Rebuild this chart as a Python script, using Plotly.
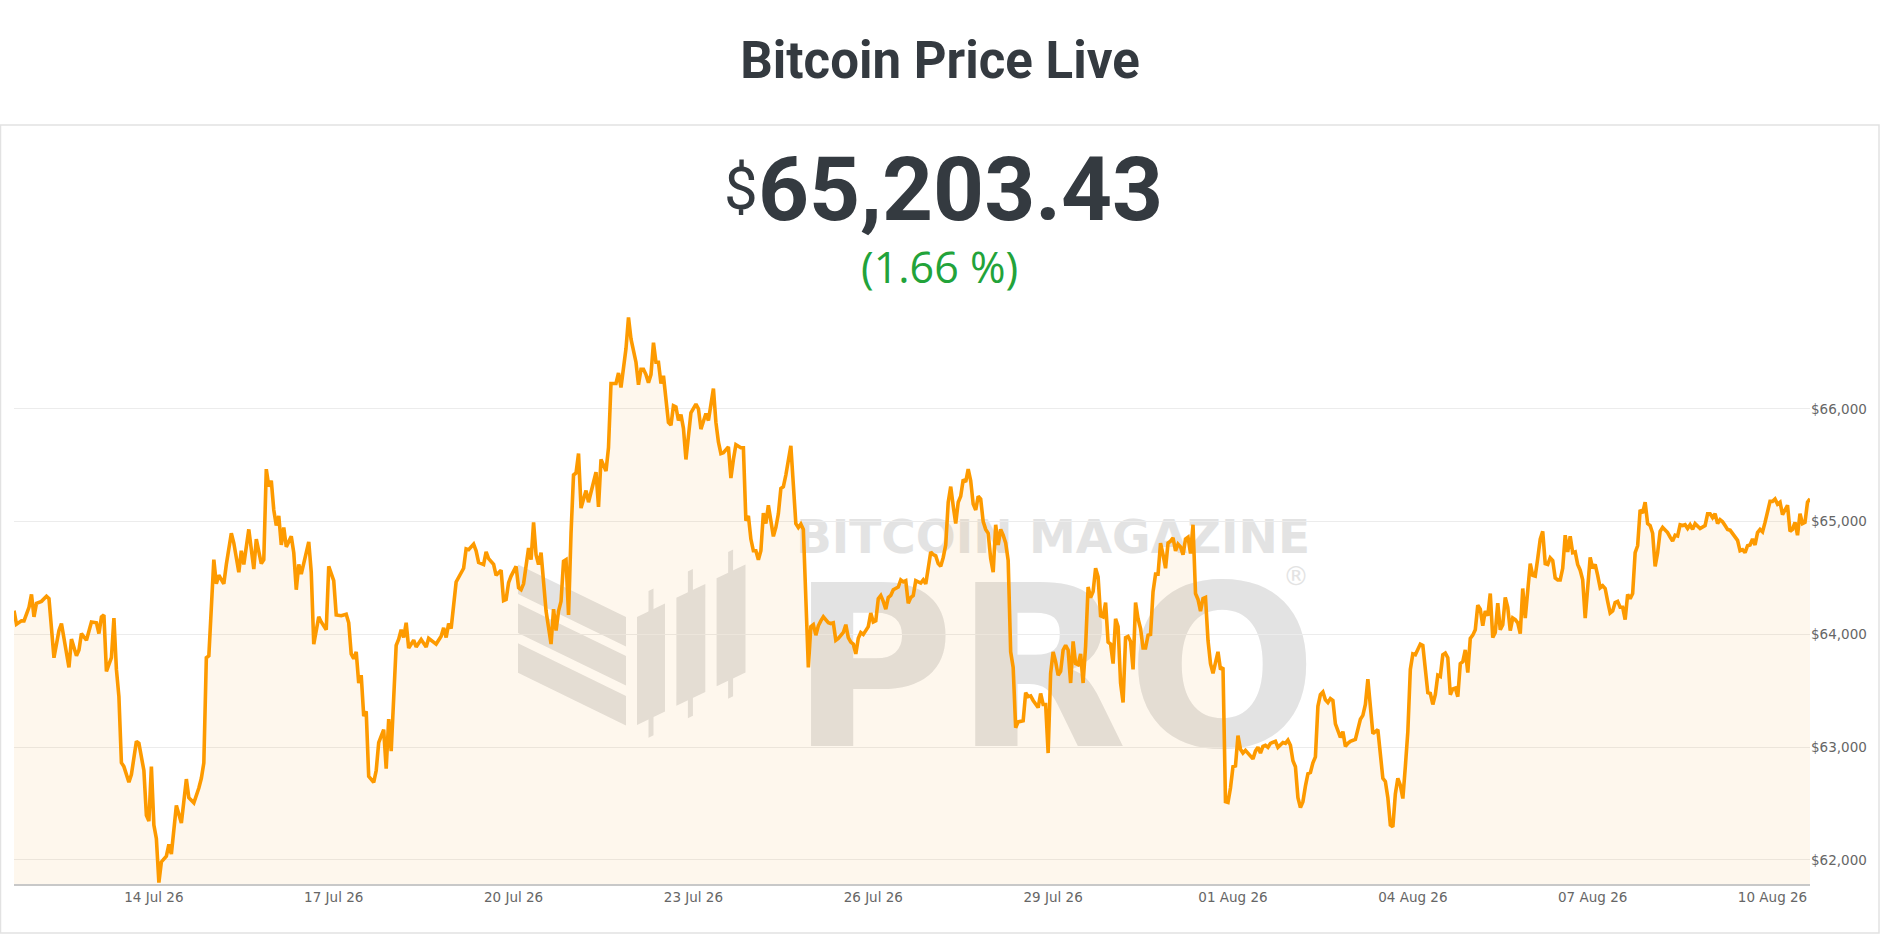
import pandas as pd
import plotly.graph_objects as go

# hourly BTC/USD readings, hour offset from the first point
start = pd.Timestamp("2026-07-11 16:00")

prices_jul11_jul21 = [
    (0, 64210), (1, 64090), (3, 64120), (4, 64120), (6, 64240), (7, 64355), (8, 64155), (9, 64276),
    (11, 64293), (13, 64338), (14, 64317), (16, 63793), (18, 64034), (19, 64096), (22, 63707), (23, 63958),
    (25, 63810), (26, 63862), (27, 64007), (29, 63948), (31, 64110), (33, 64103), (34, 64007), (35, 64155),
    (36, 64172), (37, 63672), (39, 63793), (40, 64145), (41, 63689), (42, 63448), (43, 62862), (44, 62828),
    (46, 62689), (47, 62758), (49, 63052), (50, 63034), (52, 62793), (53, 62396), (54, 62345), (55, 62828),
    (56, 62310), (57, 62189), (58, 61800), (59, 61983), (61, 62034), (62, 62138), (63, 62052), (65, 62483),
    (67, 62327), (69, 62717), (70, 62552), (72, 62507), (74, 62638), (75, 62724), (76, 62862), (77, 63793),
    (78, 63810), (80, 64662), (81, 64448), (82, 64524), (84, 64448), (85, 64620), (87, 64896), (88, 64810),
    (90, 64551), (91, 64741), (92, 64620), (94, 64931), (96, 64579), (97, 64845), (99, 64627), (100, 64662),
    (101, 65465), (102, 65310), (103, 65362), (104, 65103), (105, 64965), (106, 65051), (107, 64793), (108, 64948),
    (109, 64776), (111, 64869), (112, 64724), (113, 64396), (114, 64620), (115, 64534), (118, 64820), (119, 64551),
    (120, 63914), (122, 64155), (123, 64110), (125, 64041), (126, 64603), (128, 64476), (129, 64172), (131, 64165),
    (133, 64179), (134, 64103), (135, 63827), (136, 63786), (137, 63845), (138, 63569), (139, 63638), (140, 63276),
    (141, 63317), (142, 62741), (144, 62689), (145, 62793), (146, 63041), (148, 63155), (149, 62810), (150, 63248),
    (151, 62965), (153, 63903), (154, 63958), (155, 64041), (156, 63972), (157, 64103), (158, 63879), (160, 63948),
    (161, 63889), (163, 63955), (165, 63889), (166, 63965), (169, 63914), (171, 63983), (172, 64058), (173, 63972),
    (174, 64096), (175, 64052), (177, 64465), (179, 64551), (180, 64586), (181, 64758), (182, 64751), (184, 64800),
    (185, 64741), (186, 64638), (188, 64620), (189, 64731), (190, 64672), (192, 64620), (193, 64524), (195, 64569),
    (196, 64300), (197, 64310), (198, 64458), (199, 64517), (201, 64603), (202, 64413), (203, 64396), (204, 64448),
    (206, 64765), (207, 64662), (208, 64993), (209, 64707), (210, 64620), (211, 64724), (212, 64483), (213, 64207),
    (215, 63914), (216, 64224), (217, 64034), (218, 64207), (219, 64293), (220, 64648), (221, 64662), (222, 64172),
    (223, 64896), (224, 65413), (225, 65431), (226, 65603), (227, 65120), (229, 65275), (230, 65172), (231, 65258),
    (233, 65438), (234, 65131), (235, 65551), (237, 65448), (238, 65655), (239, 66224), (241, 66224), (242, 66317),
    (243, 66189), (245, 66534), (246, 66810),
]

prices_jul21_aug01 = [
    (247, 66620), (249, 66413), (250, 66213), (251, 66351), (252, 66351), (253, 66303), (254, 66231), (255, 66303),
    (256, 66586), (257, 66413), (258, 66413), (259, 66224), (260, 66293), (262, 65879), (263, 65855), (264, 66027),
    (265, 66017), (266, 65896), (267, 65948), (268, 65827), (269, 65551), (270, 65775), (271, 65965), (273, 66041),
    (274, 66000), (275, 65820), (276, 65889), (277, 65958), (278, 65896), (280, 66179), (281, 65879), (282, 65706),
    (283, 65603), (284, 65610), (286, 65662), (287, 65386), (288, 65551), (289, 65682), (291, 65655), (292, 65655),
    (293, 65007), (294, 65051), (295, 64845), (296, 64741), (297, 64741), (298, 64662), (299, 64741), (300, 65075),
    (301, 64982), (302, 65145), (304, 64869), (305, 64948), (306, 65069), (307, 65293), (308, 65310), (309, 65413),
    (311, 65672), (312, 65310), (313, 64982), (314, 64948), (315, 64979), (316, 64931), (318, 63707), (319, 64069),
    (320, 64086), (321, 63993), (322, 64076), (323, 64120), (324, 64155), (326, 64103), (327, 64096), (328, 64103),
    (329, 63948), (330, 63965), (332, 64017), (333, 64086), (334, 63972), (335, 63931), (336, 63914), (337, 63827),
    (338, 63965), (339, 64017), (340, 64000), (342, 64069), (343, 64189), (344, 64110), (345, 64120), (346, 64317),
    (347, 64345), (348, 64293), (349, 64224), (350, 64327), (351, 64345), (352, 64396), (354, 64420), (355, 64483),
    (356, 64465), (357, 64476), (358, 64276), (359, 64327), (360, 64345), (361, 64476), (363, 64455), (364, 64483),
    (365, 64448), (366, 64586), (367, 64731), (368, 64707), (369, 64696), (370, 64627), (371, 64603), (372, 64682),
    (373, 64793), (374, 65172), (375, 65310), (376, 65138), (377, 64982), (378, 65172), (379, 65224), (380, 65372),
    (381, 65351), (382, 65465), (383, 65362), (384, 65155), (385, 65103), (386, 65224), (387, 65200), (388, 65000),
    (389, 64931), (390, 64896), (391, 64672), (392, 64551), (393, 64972), (394, 64793), (395, 64931), (396, 64879),
    (397, 64810), (398, 64655), (399, 63845), (400, 63707), (401, 63172), (402, 63224), (404, 63234), (405, 63483),
    (406, 63448), (407, 63455), (408, 63414), (410, 63351), (411, 63476), (412, 63379), (413, 63379), (414, 62948),
    (415, 63655), (416, 63845), (417, 63758), (418, 63638), (419, 63672), (420, 63862), (421, 63903), (422, 63862),
    (423, 63569), (424, 63938), (425, 63741), (426, 63731), (427, 63827), (428, 63569), (429, 63896), (430, 64420),
    (431, 64327), (432, 64379), (433, 64586), (434, 64510), (435, 64165), (436, 64155), (437, 64282), (438, 63931),
    (439, 63914), (440, 63741), (441, 64138), (442, 64069), (443, 63569), (444, 63396), (445, 63972), (446, 63983),
    (447, 63938), (448, 63689), (449, 64282), (450, 64138), (451, 64052), (452, 63879), (453, 63879), (454, 63993),
    (455, 64000), (456, 64379), (457, 64534), (458, 64534), (459, 64810), (460, 64707), (461, 64586), (462, 64810),
    (463, 64827), (464, 64855), (465, 64741), (466, 64800), (467, 64776), (468, 64707), (469, 64845), (470, 64862),
    (471, 64717), (472, 64972), (473, 64362), (474, 64310), (475, 64207), (476, 64317), (477, 64327), (478, 63948),
    (479, 63741), (480, 63655), (481, 63741), (482, 63845), (483, 63689), (484, 63707), (485, 62517), (486, 62510),
    (487, 62638), (488, 62827), (489, 62834), (490, 63103), (491, 62982), (492, 62948), (493, 62972), (494, 62948),
    (496, 62896),
]

prices_aug01_aug10 = [
    (497, 62965), (498, 62999), (499, 62948), (500, 63007), (501, 63017), (502, 62999), (503, 63034), (505, 63052),
    (506, 62999), (507, 63017), (508, 63041), (509, 63034), (510, 63062), (511, 63017), (512, 62879), (513, 62827),
    (514, 62552), (515, 62465), (516, 62517), (517, 62655), (518, 62765), (519, 62776), (520, 62862), (521, 62914),
    (522, 63362), (523, 63465), (524, 63489), (525, 63420), (526, 63396), (527, 63431), (528, 63414), (529, 63207),
    (530, 63138), (531, 63086), (532, 63138), (533, 63007), (534, 63034), (535, 63052), (537, 63069), (538, 63172),
    (539, 63248), (540, 63282), (541, 63379), (542, 63603), (543, 63379), (544, 63120), (546, 63155), (547, 62948),
    (548, 62724), (549, 62696), (550, 62552), (551, 62310), (552, 62293), (553, 62586), (554, 62724), (555, 62662),
    (556, 62545), (557, 62827), (558, 63138), (559, 63689), (560, 63827), (561, 63820), (562, 63862), (563, 63914),
    (564, 63903), (565, 63689), (566, 63483), (567, 63476), (568, 63379), (569, 63465), (570, 63638), (571, 63627),
    (572, 63820), (573, 63834), (574, 63793), (575, 63465), (576, 63517), (577, 63524), (578, 63448), (579, 63741),
    (580, 63758), (581, 63862), (582, 63662), (583, 63965), (584, 63993), (585, 64041), (586, 64258), (587, 64224),
    (588, 64076), (589, 64207), (590, 64165), (591, 64362), (592, 63972), (593, 64017), (594, 64276), (595, 64041),
    (596, 64086), (597, 64327), (598, 64241), (599, 64034), (600, 64145), (601, 64131), (602, 64103), (603, 64007),
    (604, 64407), (605, 64145), (606, 64413), (607, 64627), (608, 64524), (609, 64517), (610, 64672), (611, 64845),
    (612, 64913), (613, 64627), (614, 64620), (615, 64679), (616, 64655), (617, 64500), (618, 64483), (619, 64483),
    (620, 64586), (621, 64879), (622, 64731), (623, 64869), (624, 64724), (625, 64731), (626, 64620), (627, 64569),
    (628, 64483), (629, 64145), (630, 64413), (631, 64682), (632, 64586), (633, 64620), (634, 64524), (635, 64413),
    (636, 64431), (637, 64407), (638, 64293), (639, 64189), (640, 64207), (641, 64282), (642, 64293), (643, 64241),
    (644, 64241), (645, 64131), (646, 64355), (647, 64317), (648, 64362), (649, 64724), (650, 64786), (651, 65103),
    (652, 65075), (653, 65172), (654, 64982), (655, 64965), (656, 64896), (657, 64603), (658, 64724), (659, 64913),
    (660, 64948), (662, 64903), (663, 64862), (664, 64827), (665, 64879), (666, 64872), (667, 64972), (668, 64965),
    (669, 64972), (670, 64938), (671, 64972), (672, 64931), (673, 64982), (674, 64965), (675, 64938), (677, 64965),
    (678, 65069), (679, 65069), (680, 65034), (681, 65069), (682, 64982), (683, 65017), (684, 64999), (685, 64965),
    (686, 64931), (687, 64924), (688, 64896), (690, 64834), (691, 64741), (692, 64751), (693, 64724), (694, 64786),
    (695, 64793), (696, 64845), (697, 64793), (698, 64903), (699, 64931), (700, 64910), (701, 64993), (703, 65179),
    (704, 65179), (705, 65200), (706, 65155), (707, 65172), (708, 65062), (709, 65103), (710, 65145), (711, 64913),
    (712, 64931), (713, 64993), (714, 64879), (715, 65069), (716, 64982), (717, 64993), (718, 65172), (719, 65203),
]

price_ticks = [62000, 63000, 64000, 65000, 66000]
current_price = "65,203.43"
change_text = "(1.66 %)"

rows = prices_jul11_jul21 + prices_jul21_aug01 + prices_aug01_aug10
hours = [h for h, _ in rows]
price = [p for _, p in rows]
times = start + pd.to_timedelta(hours, unit="h")

W, H = 1880, 935
L, R, T, B = 14, 70, 296, 51
PW, PH = W - L - R, H - T - B


def pp(x, y):
    # page pixel -> paper coords
    return (x - L) / PW, (H - B - y) / PH


ORANGE = "#fd9a00"
WM = "#e3e3e3"

fig = go.Figure()
fig.add_trace(go.Scatter(
    x=times, y=price, mode="lines",
    line=dict(color=ORANGE, width=3.6),
    fill="tozeroy", fillcolor="rgba(247,147,26,0.08)",
    hoverinfo="x+y", showlegend=False,
))

shapes = []

# card border
x0, y0 = pp(0.5, 933)
x1, y1 = pp(1879, 125)
shapes.append(dict(type="rect", xref="paper", yref="paper", x0=x0, y0=y0, x1=x1, y1=y1,
                   line=dict(color="#e2e2e2", width=1.5), layer="above"))


def poly(points):
    s = ""
    for i, (a, b) in enumerate(points):
        u, v = pp(a, b)
        s += ("M" if i == 0 else "L") + f"{u:.5f},{v:.5f} "
    return s + "Z"


# watermark logo: three slanted stripes
for top_l, top_r in [(564.6, 617), (603.5, 656), (643.2, 696.1)]:
    shapes.append(dict(type="path", xref="paper", yref="paper", layer="below",
                       path=poly([(518, top_l), (626, top_r), (626, top_r + 29.5), (518, top_l + 29.5)]),
                       fillcolor=WM, line=dict(width=0)))

# watermark logo: three candle bars
for bx0, bx1, ytl, ytr, wick_top, wick_bot in [
    (637, 665, 617, 603.5, 591, 737.7),
    (676.4, 705.3, 597.7, 584, 571.6, 718.3),
    (716.6, 745.5, 578.2, 564.6, 552, 698.8),
]:
    shapes.append(dict(type="path", xref="paper", yref="paper", layer="below",
                       path=poly([(bx0, ytl), (bx1, ytr), (bx1, ytr + 108), (bx0, ytl + 108)]),
                       fillcolor=WM, line=dict(width=0)))
    wx = bx0 + 11.5
    shapes.append(dict(type="path", xref="paper", yref="paper", layer="below",
                       path=poly([(wx, wick_top), (wx + 5, wick_top - 2.5), (wx + 5, wick_bot - 2.5), (wx, wick_bot)]),
                       fillcolor=WM, line=dict(width=0)))

# watermark words
for text, cx, cy, size, half_h in [("BITCOIN MAGAZINE", 1053, 533, 47, 24),
                                   ("PRO", 1054, 652, 224, 88),
                                   ("®", 1296, 574, 26, 15)]:
    half_w = 280 if text != "®" else 15
    u0, v0 = pp(cx - half_w, cy + half_h)
    u1, v1 = pp(cx + half_w, cy - half_h)
    label_text = text if text == "®" else f"<b>{text}</b>"
    shapes.append(dict(type="rect", xref="paper", yref="paper", layer="below",
                       x0=u0, x1=u1, y0=v0, y1=v1, line=dict(width=0), fillcolor="rgba(0,0,0,0)",
                       label=dict(text=label_text, textposition="middle center",
                                  font=dict(family="DejaVu Sans", size=size, color=WM))))

annotations = []
ux, uy = pp(756, 190)
annotations.append(dict(xref="paper", yref="paper", x=ux, y=uy, xanchor="left", yanchor="middle",
                        text=f"<b>{current_price}</b>", showarrow=False,
                        font=dict(family="Roboto", size=89, color="#343a40")))
ux, uy = pp(760, 188)
annotations.append(dict(xref="paper", yref="paper", x=ux, y=uy, xanchor="right", yanchor="middle",
                        text="$", showarrow=False,
                        font=dict(family="Roboto", size=60, color="#343a40")))
ux, uy = pp(940, 266)
annotations.append(dict(xref="paper", yref="paper", x=ux, y=uy, xanchor="center", yanchor="middle",
                        text=change_text, showarrow=False,
                        font=dict(family="Open Sans", size=43, color="#22a33a")))

fig.update_layout(
    width=W, height=H,
    margin=dict(l=L, r=R, t=T, b=B, pad=0),
    paper_bgcolor="white", plot_bgcolor="white",
    title=dict(text="<b>Bitcoin Price Live</b>", x=0.5, xanchor="center",
               y=1 - 60 / H, yanchor="middle", yref="container",
               font=dict(family="Roboto", size=51, color="#343a40")),
    shapes=shapes, annotations=annotations,
    xaxis=dict(type="date", range=[times[0], times[-1]], showgrid=False, zeroline=False,
               showline=True, linecolor="#c8c8c8", linewidth=1.5, ticks="",
               tick0="2026-07-14", dtick=3 * 86400000, tickformat="%d %b %y",
               tickfont=dict(family="DejaVu Sans", size=13.5, color="#666666")),
    yaxis=dict(range=[61787, 67000], side="right", tickmode="array", tickvals=price_ticks,
               ticktext=[f"${v:,}" for v in price_ticks],
               showgrid=True, gridcolor="#ececec", gridwidth=1.2, zeroline=False, ticks="",
               tickfont=dict(family="DejaVu Sans", size=13.5, color="#666666")),
    showlegend=False,
)

fig.write_html("out.html", config={"displayModeBar": False},
               post_script="document.body.style.margin='0';document.body.style.overflow='hidden';")
